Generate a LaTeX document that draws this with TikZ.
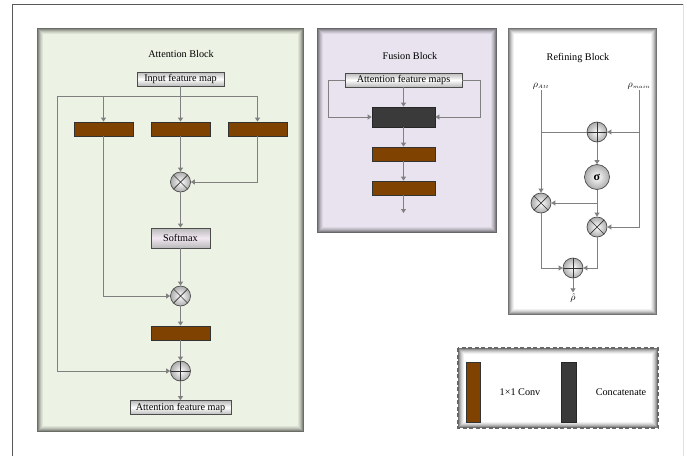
\documentclass[tikz,border=0pt]{standalone}
\usepackage{fontspec}
\setmainfont{Liberation Serif}
\usetikzlibrary{arrows.meta,calc}

\definecolor{attbg}{RGB}{236,242,228}
\definecolor{fusbg}{RGB}{232,227,238}
\definecolor{convc}{RGB}{128,66,0}
\definecolor{catc}{RGB}{58,58,58}
\definecolor{linec}{RGB}{128,128,128}
\definecolor{smc}{RGB}{242,232,242}

\newcommand\mypanel[5]{%
  \fill[#5] (#1,#2) rectangle (#3,#4);
  \foreach \d/\o in {0.5/0.55,1.5/0.42,2.5/0.3,3.5/0.2,4.5/0.12,5.5/0.06}
    \draw[black,opacity=\o,line width=1pt] (#1+\d,#2+\d) rectangle (#3-\d,#4-\d);
}

\tikzset{
  conn/.style={draw=linec,line width=0.8pt},
  arr/.style={conn,-{Triangle[width=5pt,length=4pt]}},
  convbox/.style={draw=black!80,line width=0.8pt,fill=convc,minimum width=59pt,minimum height=14pt,inner sep=0pt},
  catbox/.style={draw=black!85,line width=0.8pt,fill=catc,minimum width=63pt,minimum height=20pt,inner sep=0pt},
  labbox/.style={draw=black!70,line width=0.8pt,top color=gray!55,bottom color=gray!55,middle color=white,minimum height=14pt,inner sep=1.5pt},
  opnode/.style={circle,draw=black!70,line width=0.7pt,shading=radial,inner color=white,outer color=gray!65,minimum size=20pt,inner sep=0pt},
  mult/.style={opnode,path picture={\draw[black!80,line width=0.7pt]
      (path picture bounding box.north west)--(path picture bounding box.south east)
      (path picture bounding box.south west)--(path picture bounding box.north east);}},
  plus/.style={opnode,path picture={\draw[black!80,line width=0.7pt]
      (path picture bounding box.north)--(path picture bounding box.south)
      (path picture bounding box.west)--(path picture bounding box.east);}},
  sigmanode/.style={opnode,minimum size=25pt,font=\bfseries\fontsize{12}{13}\selectfont},
  title/.style={font=\fontsize{10.2}{12}\selectfont}
}

\begin{document}
\begin{tikzpicture}[x=1pt,y=-1pt,font=\fontsize{10.2}{12}\selectfont]
\useasboundingbox (0,0) rectangle (697,456);
\fill[white] (0,0) rectangle (697,456);

% outer frame
\draw[black!65,line width=0.9pt] (12,456) -- (12,4) -- (683,4);
\draw[black!12,line width=0.6pt] (683,4) -- (683,456);

% panels
\mypanel{37}{28}{304}{432}{attbg}
\mypanel{317}{28}{497}{233}{fusbg}
\mypanel{508}{28}{657}{315}{white}
\mypanel{458}{348}{658}{428}{white}
\draw[black!60,line width=1.6pt,dash pattern=on 4pt off 2.5pt] (458,348) rectangle (658,428);

% ---------- Attention Block ----------
\node[title] (atitle) at (181,54) {Attention Block};
\node[labbox,minimum width=87pt] (ain) at (180.5,79) {Input feature map};
\node[convbox] (c1) at (103.5,129) {};
\node[convbox] (c2) at (180.5,129) {};
\node[convbox] (c3) at (257.5,129) {};
\node[mult] (m1) at (180.5,182) {};
\node[labbox,minimum width=59pt,minimum height=20pt,middle color=smc] (sm) at (180.5,238) {Softmax};
\node[mult] (m2) at (180.5,296) {};
\node[convbox] (c4) at (180.5,333) {};
\node[plus] (p1) at (180.5,371) {};
\node[labbox,minimum width=101pt] (aout) at (180.5,407.5) {Attention feature map};
\coordinate (jL) at (57,96);

\draw[conn] (jL) -- (c3.north |- jL);
\draw[arr] (ain.south) -- (c2.north);
\draw[arr] (c1.north |- jL) -- (c1.north);
\draw[arr] (c3.north |- jL) -- (c3.north);
\draw[arr] (c2.south) -- (m1.north);
\draw[arr] (c3.south) |- (m1.east);
\draw[arr] (m1.south) -- (sm.north);
\draw[arr] (sm.south) -- (m2.north);
\draw[arr] (c1.south) |- (m2.west);
\draw[arr] (m2.south) -- (c4.north);
\draw[arr] (c4.south) -- (p1.north);
\draw[arr] (jL) |- (p1.west);
\draw[arr] (p1.south) -- (aout.north);

% ---------- Fusion Block ----------
\node[title] (ftitle) at (410,56) {Fusion Block};
\node[labbox,minimum width=117pt] (fin) at (403.5,80) {Attention feature maps};
\node[catbox] (cat) at (403.5,117) {};
\node[convbox,minimum width=63pt] (f1) at (403.5,154) {};
\node[convbox,minimum width=63pt] (f2) at (403.5,188) {};
\coordinate (fl) at (328,117);
\coordinate (fr) at (480,117);
\coordinate (fend) at (403.5,213);

\draw[arr] (fin.west) -| (fl) -- (cat.west);
\draw[arr] (fin.east) -| (fr) -- (cat.east);
\draw[arr] (fin.south) -- (cat.north);
\draw[arr] (cat.south) -- (f1.north);
\draw[arr] (f1.south) -- (f2.north);
\draw[arr] (f2.south) -- (fend);

% ---------- Refining Block ----------
\node[title] (rtitle) at (578,58) {Refining Block};
\node[inner sep=1pt] (ra) at (541,86) {$\rho_{\scriptscriptstyle Att}$};
\node[inner sep=1pt] (rmn) at (639,86) {$\rho_{\scriptscriptstyle main}$};
\node[plus] (rp1) at (597,132) {};
\node[sigmanode] (rs) at (597,177) {σ};
\coordinate (rj) at (597,203);
\node[mult] (rm1) at (541,203) {};
\node[mult] (rm2) at (597,227) {};
\node[plus] (rp2) at (573,268) {};
\node[inner sep=1pt] (rout) at (573,298) {$\hat{\rho}$};

\draw[arr] (ra.south) -- (rm1.north);
\draw[conn] (ra.south |- rp1) -- (rp1.west);
\draw[arr] (rmn.south |- rp1) -- (rp1.east);
\draw[arr] (rmn.south) |- (rm2.east);
\draw[arr] (rp1.south) -- (rs.north);
\draw[conn] (rs.south) -- (rj);
\draw[arr] (rj) -- (rm1.east);
\draw[arr] (rj) -- (rm2.north);
\draw[arr] (rm1.south) |- (rp2.west);
\draw[arr] (rm2.south) |- (rp2.east);
\draw[arr] (rp2.south) -- (rout.north);

% ---------- Legend ----------
\node[convbox,minimum width=14pt,minimum height=60pt] (lg1) at (473,392) {};
\node (lt1) at (520,392) {1×1 Conv};
\node[catbox,minimum width=15pt,minimum height=60pt] (lg2) at (568.5,392) {};
\node (lt2) at (621,392) {Concatenate};
\end{tikzpicture}
\end{document}
